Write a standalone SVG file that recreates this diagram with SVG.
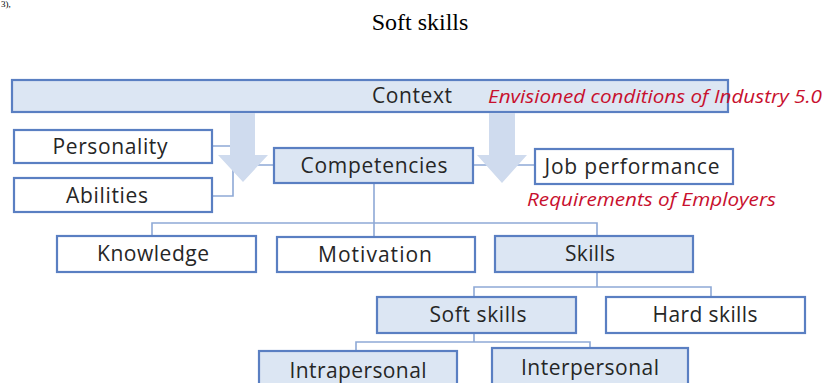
<svg xmlns="http://www.w3.org/2000/svg" width="825" height="383" viewBox="0 0 825 383">
<defs>
<style>
.box{stroke:#5a7fc2;stroke-width:2.2}
.w{fill:#ffffff}
.b{fill:#dce6f3}
.t{font-family:"Open Sans","Liberation Sans",sans-serif;font-size:21px;fill:#262626;text-anchor:middle}
.r{font-family:"Open Sans","Liberation Sans",sans-serif;font-size:19px;font-style:italic;fill:#c8102e}
.ln{fill:none;stroke:#8ea9d6;stroke-width:1.6}
.arr{fill:#cfdbee}
</style>
</defs>
<rect width="825" height="383" fill="#ffffff"/>
<text x="1" y="7" font-family="Liberation Serif, serif" font-size="9" fill="#000">3),</text>
<text x="420" y="30" font-family="Liberation Serif, serif" font-size="24" fill="#000" text-anchor="middle">Soft skills</text>

<g id="connectors">
<path class="ln" d="M212 146 H233 V196 H212 M233 165 H274"/>
<path class="ln" d="M473 165 H535"/>
<path class="ln" d="M374 183 V237 M152 236 V223 H597 V236"/>
<path class="ln" d="M597 272 V287 M474 297 V287 H711 V297"/>
<path class="ln" d="M474 333 V342 M356 351 V342 H590 V348"/>
</g>

<g id="context">
<rect class="box b" x="12" y="80" width="716" height="32"/>
<text class="t" x="412" y="103" textLength="80">Context</text>
<text class="r" x="488" y="103" textLength="334" lengthAdjust="spacingAndGlyphs">Envisioned conditions of Industry 5.0</text>
</g>

<g id="arrows">
<path class="arr" d="M230 113 H255 V155 H268 L243 182 L218 155 H230 Z"/>
<path class="arr" d="M489 113 H515 V155 H527 L502 183 L477 155 H489 Z"/>
</g>

<g id="personality">
<rect class="box w" x="14" y="130" width="198" height="33"/>
<text class="t" x="110" y="154" textLength="115">Personality</text>
</g>
<g id="abilities">
<rect class="box w" x="14" y="178" width="198" height="34"/>
<text class="t" x="107" y="203" textLength="82">Abilities</text>
</g>
<g id="competencies">
<rect class="box b" x="274" y="148" width="199" height="35"/>
<text class="t" x="374" y="173" textLength="147">Competencies</text>
</g>
<g id="job-performance">
<rect class="box w" x="535" y="149" width="198" height="35"/>
<text class="t" x="632" y="174" textLength="175">Job performance</text>
<text class="r" x="527" y="206" textLength="249" lengthAdjust="spacingAndGlyphs">Requirements of Employers</text>
</g>
<g id="knowledge">
<rect class="box w" x="57" y="236" width="199" height="36"/>
<text class="t" x="153" y="261" textLength="112">Knowledge</text>
</g>
<g id="motivation">
<rect class="box w" x="277" y="237" width="198" height="35"/>
<text class="t" x="375" y="262" textLength="114">Motivation</text>
</g>
<g id="skills">
<rect class="box b" x="495" y="236" width="198" height="36"/>
<text class="t" x="590" y="261" textLength="50">Skills</text>
</g>
<g id="soft-skills">
<rect class="box b" x="377" y="297" width="199" height="36"/>
<text class="t" x="478" y="322" textLength="97">Soft skills</text>
</g>
<g id="hard-skills">
<rect class="box w" x="606" y="297" width="199" height="36"/>
<text class="t" x="705" y="322" textLength="105">Hard skills</text>
</g>
<g id="intrapersonal">
<rect class="box b" x="259" y="351" width="198" height="42"/>
<text class="t" x="358" y="378" textLength="137">Intrapersonal</text>
</g>
<g id="interpersonal">
<rect class="box b" x="492" y="348" width="196" height="44"/>
<text class="t" x="590" y="375" textLength="138">Interpersonal</text>
</g>
</svg>
